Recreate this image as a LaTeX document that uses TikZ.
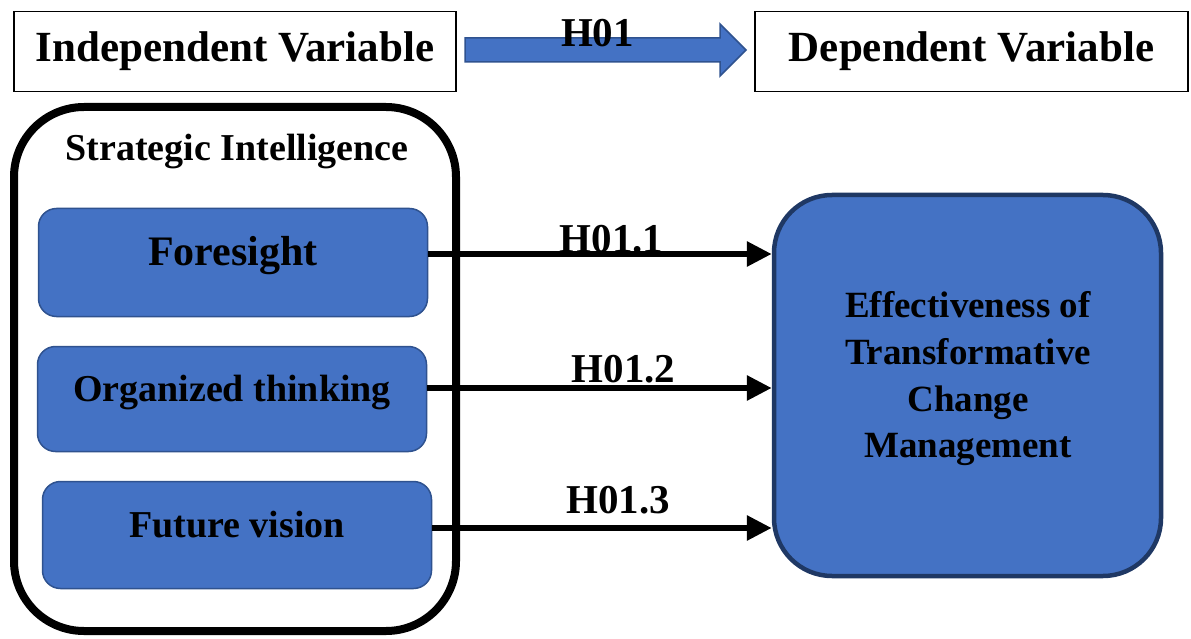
\documentclass[tikz,border=0pt]{standalone}
\usepackage{fontspec}
\setmainfont{Liberation Serif}
\usetikzlibrary{arrows.meta}
\definecolor{boxblue}{HTML}{4472C4}
\definecolor{edgeblue}{HTML}{2F528F}
\definecolor{navyedge}{HTML}{1F3864}
\begin{document}
\begin{tikzpicture}[x=1pt,y=-1pt,
  header/.style={draw=black, line width=1.3pt, fill=white, inner sep=0pt,
    font=\fontsize{43}{50}\selectfont\bfseries, text height=30pt, text depth=9pt,
    minimum height=80pt},
  container/.style={draw=black, line width=8pt, rounded corners=70pt, inner sep=0pt},
  dimbox/.style={draw=edgeblue, line width=1.5pt, fill=boxblue, rounded corners=18pt,
    inner sep=0pt, minimum width=389pt, text height=15pt, text depth=10pt,
    font=\fontsize{38}{44}\selectfont\bfseries},
  outcome/.style={draw=navyedge, line width=4.5pt, fill=boxblue, rounded corners=58pt,
    inner sep=0pt, minimum width=387pt, minimum height=381pt},
  outtext/.style={align=center, inner sep=0pt, font=\fontsize{37}{46.7}\selectfont\bfseries},
  title/.style={anchor=base, inner sep=0pt, font=\fontsize{38}{44}\selectfont\bfseries},
  hlabel/.style={anchor=base, inner sep=0pt, font=\fontsize{41}{48}\selectfont\bfseries},
  conn/.style={line width=6pt, -{Triangle[length=25pt,width=24pt]}},
  blockarrow/.style={draw=edgeblue, fill=boxblue, line width=1.5pt, line join=miter}
]
\fill[white] (0,0) rectangle (1191,639);
\useasboundingbox (0,0) rectangle (1191,639);

% headers
\node[header, minimum width=442pt] (iv) at (235,51.5) {Independent Variable};
\node[header, minimum width=433pt] (dv) at (971.5,51.5) {Dependent Variable};

% block arrow
\coordinate (ba) at (465,50);
\draw[blockarrow] (ba) ++(0,-12) -- ++(255,0) -- ++(0,-14) -- ++(26,26) -- ++(-26,26) -- ++(0,-14) -- ++(-255,0) -- cycle;
\node[hlabel] (h0) at (597.5,47) {H01};

% container
\node[container, minimum width=442pt, minimum height=524pt] (si) at (235,369) {};
\node[title] (sit) at (237,161) {Strategic Intelligence};

% dimension boxes
\node[dimbox, minimum height=108pt, font=\fontsize{42}{48}\selectfont\bfseries] (fs) at (233,262.5) {Foresight};
\node[dimbox, minimum height=105pt] (ot) at (232,399) {Organized thinking};
\node[dimbox, minimum height=107pt] (fv) at (237,535) {Future vision};

% outcome
\node[outcome] (eff) at (967.5,385.5) {};
\node[outtext] (efft) at (968,379) {Effectiveness of\\Transformative\\Change\\Management};

% connectors
\draw[conn] (fs.east |- 0,254) -- (eff.west |- 0,254);
\draw[conn] (ot.east |- 0,388) -- (eff.west |- 0,388);
\draw[conn] (fv.east |- 0,528) -- (eff.west |- 0,528);

\node[hlabel] (h1) at (611.5,252) {H01.1};
\node[hlabel] (h2) at (623.5,382) {H01.2};
\node[hlabel] (h3) at (618,513) {H01.3};
\end{tikzpicture}
\end{document}
